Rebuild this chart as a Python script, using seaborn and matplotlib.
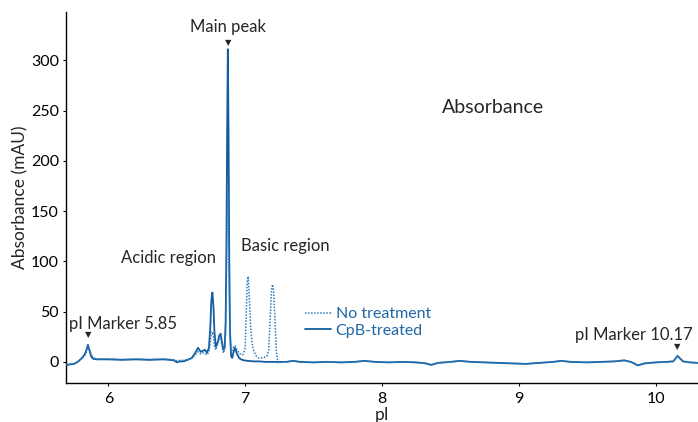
import numpy as np
import pandas as pd
import matplotlib
matplotlib.use("Agg")
import matplotlib.pyplot as plt
import seaborn as sns
from matplotlib.lines import Line2D

# ---------------- data ----------------
# shared baseline tail (pI > 7.3)
pi_tail = [7.30, 7.35, 7.40, 7.50, 7.60, 7.70, 7.80, 7.87, 7.95, 8.05, 8.15, 8.25,
           8.32, 8.36, 8.41, 8.50, 8.57, 8.65, 8.75, 8.85, 8.95, 9.05, 9.15, 9.25,
           9.31, 9.38, 9.50, 9.60, 9.70, 9.77, 9.82, 9.87, 9.92, 10.00, 10.08,
           10.13, 10.16, 10.20, 10.25, 10.31]
abs_tail = [0.0, 1.0, 0.0, -0.5, 0.0, -0.5, 0.0, 1.0, 0.0, -0.5, 0.0, -0.5,
            -1.5, -3.0, -1.0, 0.0, 1.0, 0.0, -0.5, -1.0, -1.5, -2.0, -1.0, 0.0,
            1.0, 0.0, -0.5, 0.0, 0.5, 1.5, 0.0, -3.5, -1.5, -0.5, 0.0,
            0.5, 6.0, 0.5, -0.5, -1.0]

# CpB-treated (solid)
pi_cpb = [5.69, 5.72, 5.75, 5.78, 5.80, 5.82, 5.835, 5.85, 5.86, 5.875, 5.89, 5.92,
          6.00, 6.10, 6.20, 6.30, 6.40, 6.45, 6.48, 6.50, 6.52, 6.55, 6.58, 6.61,
          6.635, 6.655, 6.675, 6.69, 6.705, 6.72, 6.735, 6.745, 6.752, 6.76, 6.768,
          6.775, 6.785, 6.80, 6.81, 6.82, 6.83, 6.84, 6.85, 6.857, 6.863, 6.868,
          6.873, 6.878, 6.883, 6.889, 6.897, 6.905, 6.915, 6.925, 6.94, 6.955,
          6.97, 6.99, 7.02, 7.06, 7.10, 7.15, 7.20, 7.25]
abs_cpb = [-3.0, -2.5, -2.0, 0.5, 3.0, 6.0, 10.0, 17.0, 12.0, 5.0, 3.0, 2.5,
           2.5, 2.0, 2.5, 2.0, 2.5, 2.0, 1.5, -0.5, 0.5, 0.5, 2.0, 4.0,
           9.0, 14.0, 10.0, 11.0, 12.0, 9.0, 14.0, 35.0, 60.0, 69.0, 55.0,
           30.0, 15.0, 20.0, 26.0, 28.0, 20.0, 12.0, 14.0, 40.0, 120.0, 230.0,
           311.0, 230.0, 110.0, 30.0, 6.0, 4.0, 10.0, 14.0, 8.0, 4.0,
           2.5, 1.5, 1.0, 0.5, 0.5, 0.0, 0.0, 0.0]

# No treatment (dotted)
pi_nt = [5.69, 5.72, 5.75, 5.78, 5.80, 5.82, 5.835, 5.85, 5.86, 5.875, 5.89, 5.92,
         6.00, 6.10, 6.20, 6.30, 6.40, 6.45, 6.48, 6.50, 6.52, 6.55, 6.58, 6.61,
         6.635, 6.655, 6.675, 6.69, 6.705, 6.72, 6.735, 6.745, 6.752, 6.76, 6.768,
         6.775, 6.785, 6.80, 6.81, 6.82, 6.83, 6.84, 6.85, 6.857, 6.863, 6.868,
         6.873, 6.878, 6.883, 6.889, 6.897, 6.905, 6.915, 6.925, 6.94, 6.96,
         6.98, 6.992, 7.0, 7.008, 7.015, 7.022, 7.03, 7.04, 7.05, 7.065, 7.08,
         7.095, 7.12, 7.14, 7.16, 7.172, 7.183, 7.193, 7.20, 7.208, 7.218, 7.228,
         7.24, 7.27]
abs_nt = [-3.0, -2.5, -2.0, 0.5, 3.0, 5.0, 8.0, 16.0, 13.0, 7.0, 4.0, 3.0,
          3.0, 2.5, 3.0, 2.5, 3.0, 2.5, 2.0, 1.0, 1.5, 1.5, 2.5, 3.5,
          7.0, 10.0, 8.0, 9.0, 8.0, 7.0, 10.0, 20.0, 28.0, 30.0, 25.0,
          16.0, 12.0, 18.0, 23.0, 25.0, 16.0, 9.0, 12.0, 30.0, 80.0, 140.0,
          169.0, 140.0, 70.0, 25.0, 10.0, 12.0, 15.0, 16.0, 12.0, 8.0,
          7.0, 10.0, 14.0, 50.0, 80.0, 85.0, 65.0, 35.0, 18.0, 10.0, 6.0,
          4.0, 4.0, 4.5, 6.0, 12.0, 45.0, 72.0, 77.0, 70.0, 40.0, 10.0,
          -1.0, 0.0]

series_names = ["No treatment", "CpB-treated"]
x_ticks = [6, 7, 8, 9, 10]
y_ticks = [0, 50, 100, 150, 200, 250, 300]

# ---------------- build table ----------------
df = pd.concat([
    pd.DataFrame({"pI": pi_nt + pi_tail, "Absorbance (mAU)": abs_nt + abs_tail,
                  "Sample": series_names[0]}),
    pd.DataFrame({"pI": pi_cpb + pi_tail, "Absorbance (mAU)": abs_cpb + abs_tail,
                  "Sample": series_names[1]}),
], ignore_index=True)

# ---------------- style ----------------
sns.set_theme(style="white")
plt.rcParams["font.family"] = ["Lato", "DejaVu Sans"]

solid_col = "#135c9e"
dot_col = "#2f7dbd"
text_blue = "#1f67a8"
dot_style = (0, (1, 1.0))

fig = plt.figure(figsize=(6.98, 4.22), dpi=100)
ax = fig.add_axes([66 / 698, 1 - 383 / 422, 1 - 66 / 698, (383 - 12) / 422])

sns.lineplot(data=df[df["Sample"] == series_names[0]], x="pI", y="Absorbance (mAU)",
             sort=False, estimator=None, ax=ax, color=dot_col, linestyle=dot_style,
             linewidth=1.1, zorder=3)
sns.lineplot(data=df[df["Sample"] == series_names[1]], x="pI", y="Absorbance (mAU)",
             sort=False, estimator=None, ax=ax, color=solid_col, linestyle="-",
             linewidth=1.3, zorder=2)

ax.set_xlim(5.69, 10.31)
ax.set_ylim(-21, 348)
ax.set_xticks(x_ticks)
ax.set_yticks(y_ticks)
ax.tick_params(axis="both", labelsize=11.5, length=2, width=0.8, colors="black",
               direction="out")
ax.tick_params(axis="x", pad=4.5)
ax.tick_params(axis="y", pad=3)
ax.tick_params(axis="both", bottom=True, left=True)
for s in ["top", "right"]:
    ax.spines[s].set_visible(False)
for s in ["left", "bottom"]:
    ax.spines[s].set_color("black")
    ax.spines[s].set_linewidth(1.0)
ax.set_xlabel("pI", fontsize=12.5, labelpad=1)
ax.set_ylabel("Absorbance (mAU)", fontsize=12.5, labelpad=2)

# annotations
ann_fs = 12
ax.text(6.875, 325, "Main peak", ha="center", va="bottom", fontsize=ann_fs)
ax.text(6.875, 318, "\u25BC", ha="center", va="center", fontsize=6)
ax.text(5.71, 38, "pI Marker 5.85", ha="left", va="center", fontsize=ann_fs)
ax.text(5.85, 27, "\u25BC", ha="center", va="center", fontsize=6)
ax.text(10.27, 27, "pI Marker 10.17", ha="right", va="center", fontsize=ann_fs)
ax.text(10.155, 15, "\u25BC", ha="center", va="center", fontsize=6)
ax.text(6.44, 103, "Acidic region", ha="center", va="center", fontsize=ann_fs)
ax.text(7.29, 115, "Basic region", ha="center", va="center", fontsize=ann_fs)
ax.text(8.81, 253, "Absorbance", ha="center", va="center", fontsize=14)

# legend
handles = [Line2D([], [], color=dot_col, linestyle=dot_style, linewidth=1.1),
           Line2D([], [], color=solid_col, linestyle="-", linewidth=1.3)]
leg = ax.legend(handles, series_names, loc="upper left",
                bbox_to_anchor=(302 / 698, 1 - 304 / 422), bbox_transform=fig.transFigure,
                frameon=False, fontsize=11.5, handlelength=1.6, handletextpad=0.3,
                labelspacing=0.15, borderpad=0.2, borderaxespad=0)
for t in leg.get_texts():
    t.set_color(text_blue)

fig.savefig("out.png", dpi=100)
